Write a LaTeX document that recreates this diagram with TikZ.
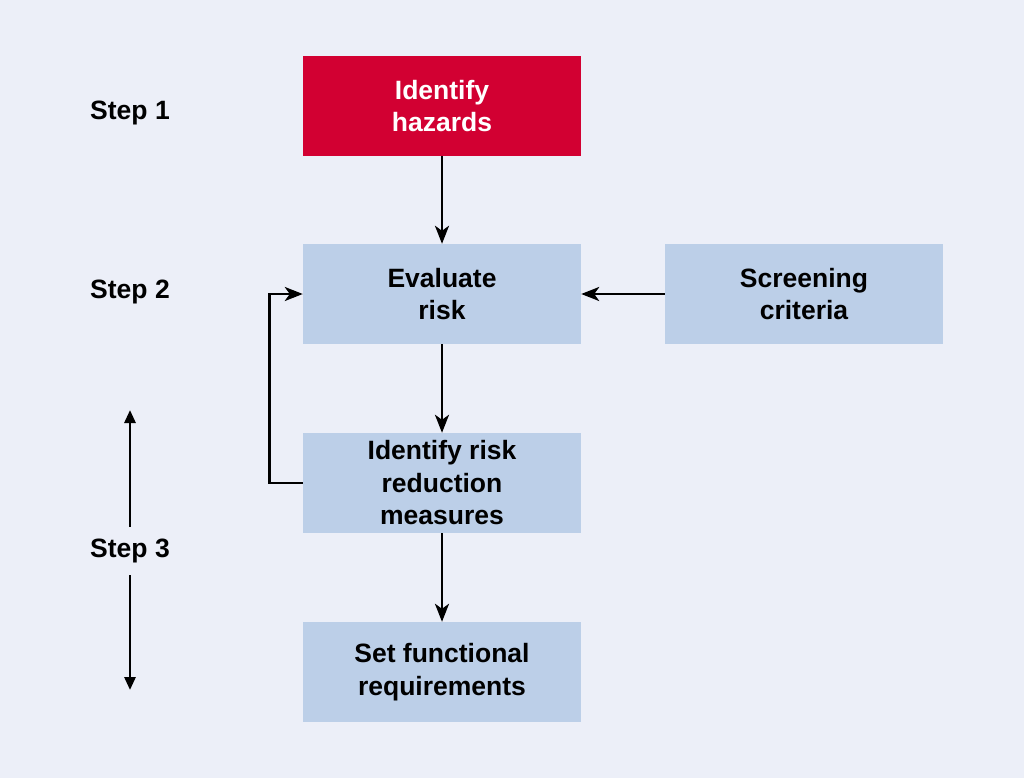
\documentclass[tikz,border=0pt]{standalone}
\usepackage{fontspec}
\setmainfont{Liberation Sans}
\usetikzlibrary{arrows.meta}
\definecolor{bgc}{HTML}{ECEFF8}
\definecolor{boxblue}{HTML}{BCCFE8}
\definecolor{boxred}{HTML}{D20032}
\tikzset{
  box/.style={rectangle, minimum width=278pt, minimum height=100pt, inner sep=0pt, align=center, font=\bfseries\fontsize{26.5}{32.5}\selectfont},
  bluebox/.style={box, fill=boxblue, text=black},
  redbox/.style={box, fill=boxred, text=white},
  steplabel/.style={font=\bfseries\fontsize{26.5}{32}\selectfont, text=black, inner sep=0pt},
  conn/.style={draw=black, line width=2.8pt, -{Stealth[length=18pt,width=14pt,inset=5pt]}},
  steparrow/.style={draw=black, line width=2.8pt, -{Triangle[length=13pt,width=11pt]}}
}
\begin{document}
\begin{tikzpicture}[x=1pt,y=-1pt]
\fill[bgc] (0,0) rectangle (1024,778);
\useasboundingbox (0,0) rectangle (1024,778);
\node[redbox] (hz) at (442,106) {Identify\\hazards};
\node[bluebox] (ev) at (442,294) {Evaluate\\risk};
\node[bluebox] (sc) at (804,294) {Screening\\criteria};
\node[bluebox] (rr) at (442,483) {Identify risk\\reduction\\measures};
\node[bluebox] (fr) at (442,672) {Set functional\\requirements};
\node[steplabel] (s1) at (130,113) {Step 1};
\node[steplabel] (s2) at (130,292) {Step 2};
\node[steplabel] (s3) at (130,551) {Step 3};
\coordinate (upend) at (130,410);
\coordinate (downend) at (130,690);
\draw[conn] (hz) -- (ev);
\draw[conn] (ev) -- (rr);
\draw[conn] (rr) -- (fr);
\draw[conn] (sc.west) -- (ev.east);
\draw[conn] (rr.west) -- ++(-33,0) |- (ev.west);
\draw[steparrow] (s3.north) ++(0,-12) -- (upend);
\draw[steparrow] (s3.south) ++(0,12) -- (downend);
\end{tikzpicture}
\end{document}
